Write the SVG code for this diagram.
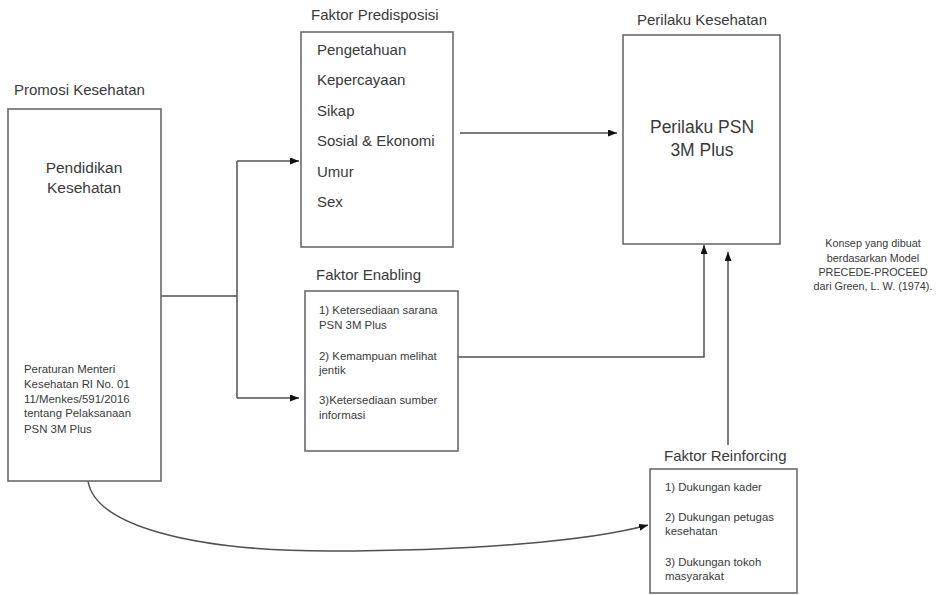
<svg xmlns="http://www.w3.org/2000/svg" width="939" height="595" viewBox="0 0 939 595">
<defs>
<marker id="ah" markerUnits="userSpaceOnUse" markerWidth="10" markerHeight="8" refX="9" refY="3.5" orient="auto-start-reverse">
<path d="M0,0 L9,3.5 L0,7 z" fill="#111"/>
</marker>
<style>
text{font-family:"Liberation Sans",Arial,sans-serif;fill:#3a3a3a}
.box{fill:#fff;stroke:#6a6a6a;stroke-width:1.6}
.t{font-size:15px}
.big{font-size:17.5px}
.sm{font-size:11.4px}
.xs{font-size:10.8px}
.c{text-anchor:middle}
.ln{fill:none;stroke:#505050;stroke-width:1.5}
</style>
</defs>
<rect width="939" height="595" fill="#fff"/>

<g id="connectors">
<path class="ln" d="M161,296 H237"/>
<path class="ln" d="M237,161 V398"/>
<path class="ln" d="M237,161 H299" marker-end="url(#ah)"/>
<path class="ln" d="M237,398 H299" marker-end="url(#ah)"/>
<path class="ln" d="M460,133 H617" marker-end="url(#ah)"/>
<path class="ln" d="M458,357 H704 V245" marker-end="url(#ah)"/>
<path class="ln" d="M728,445 V252" marker-end="url(#ah)"/>
<path class="ln" d="M84,208 V357" marker-start="url(#ah)" marker-end="url(#ah)"/>
<path class="ln" d="M88,481 C95,525 190,551 330,551 C470,551 590,541 648,525" marker-end="url(#ah)"/>
</g>

<g id="promosi">
<text class="t" x="14" y="95">Promosi Kesehatan</text>
<rect class="box" x="8" y="109" width="153" height="372"/>
<text class="t c" x="84" y="173" style="font-size:15.5px">Pendidikan</text>
<text class="t c" x="84" y="193" style="font-size:15.5px">Kesehatan</text>
<text class="sm" x="24" y="373">Peraturan Menteri</text>
<text class="sm" x="24" y="388">Kesehatan RI No. 01</text>
<text class="sm" x="24" y="403">11/Menkes/591/2016</text>
<text class="sm" x="24" y="417">tentang Pelaksanaan</text>
<text class="sm" x="24" y="433">PSN 3M Plus</text>
</g>

<g id="predisposisi">
<text class="t" x="311" y="20">Faktor Predisposisi</text>
<rect class="box" x="301" y="32" width="152" height="215"/>
<text class="t" x="317" y="55">Pengetahuan</text>
<text class="t" x="317" y="85.4">Kepercayaan</text>
<text class="t" x="317" y="115.8">Sikap</text>
<text class="t" x="317" y="146.2">Sosial &amp; Ekonomi</text>
<text class="t" x="317" y="176.6">Umur</text>
<text class="t" x="317" y="207">Sex</text>
</g>

<g id="perilaku">
<text class="t c" x="702" y="25">Perilaku Kesehatan</text>
<rect class="box" x="623" y="35" width="157" height="209"/>
<text class="big c" x="702" y="133">Perilaku PSN</text>
<text class="big c" x="702" y="156">3M Plus</text>
</g>

<g id="enabling">
<text class="t" x="316" y="280">Faktor Enabling</text>
<rect class="box" x="305" y="291" width="153" height="160"/>
<text class="sm" x="319" y="314">1) Ketersediaan sarana</text>
<text class="sm" x="319" y="329">PSN 3M Plus</text>
<text class="sm" x="319" y="360">2) Kemampuan melihat</text>
<text class="sm" x="319" y="374">jentik</text>
<text class="sm" x="319" y="404">3)Ketersediaan sumber</text>
<text class="sm" x="319" y="419">informasi</text>
</g>

<g id="reinforcing">
<text class="t" x="664" y="461">Faktor Reinforcing</text>
<rect class="box" x="650" y="469" width="147" height="124"/>
<text class="sm" x="665" y="491">1) Dukungan kader</text>
<text class="sm" x="665" y="521">2) Dukungan petugas</text>
<text class="sm" x="665" y="535">kesehatan</text>
<text class="sm" x="665" y="566">3) Dukungan tokoh</text>
<text class="sm" x="665" y="580">masyarakat</text>
</g>

<g id="note">
<text class="xs c" x="873" y="247">Konsep yang dibuat</text>
<text class="xs c" x="873" y="262">berdasarkan Model</text>
<text class="xs c" x="873" y="276">PRECEDE-PROCEED</text>
<text class="xs c" x="873" y="290">dari Green, L. W. (1974).</text>
</g>
</svg>
